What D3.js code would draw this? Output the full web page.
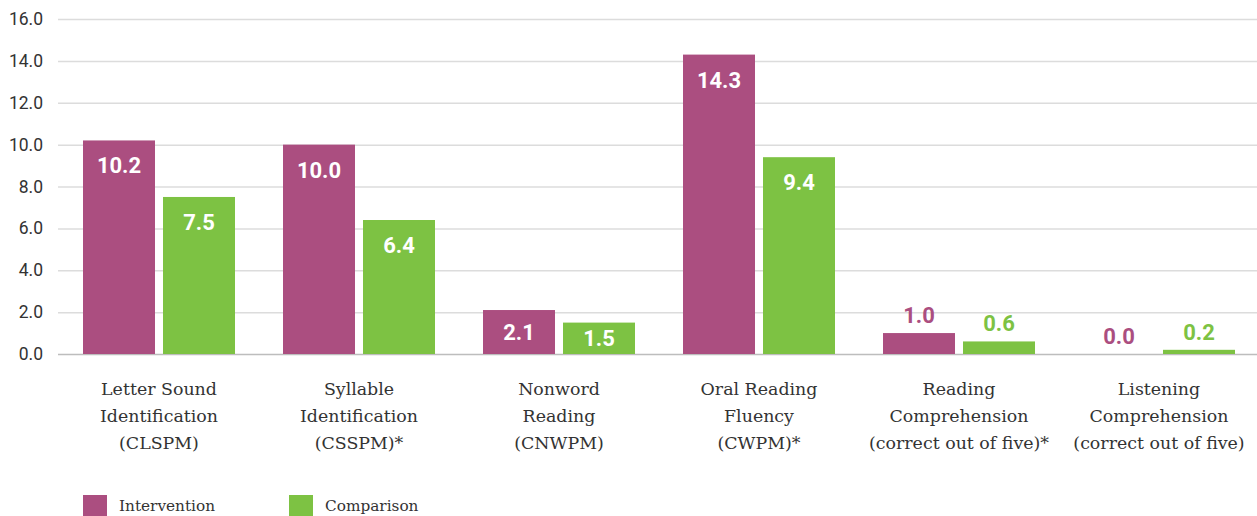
<!DOCTYPE html>
<html><head><meta charset="utf-8">
<script src="https://cdn.jsdelivr.net/npm/d3@7"></script>
<style>body{margin:0;background:#fff}svg{display:block}</style>
</head><body><svg id="c" width="1257" height="516"></svg>
<script>
const categories = [
  ["Letter Sound","Identification","(CLSPM)"],
  ["Syllable","Identification","(CSSPM)*"],
  ["Nonword","Reading","(CNWPM)"],
  ["Oral Reading","Fluency","(CWPM)*"],
  ["Reading","Comprehension","(correct out of five)*"],
  ["Listening","Comprehension","(correct out of five)"]
];
const seriesNames = ["Intervention","Comparison"];
const intervention = [10.2, 10.0, 2.1, 14.3, 1.0, 0.0];
const comparison = [7.5, 6.4, 1.5, 9.4, 0.6, 0.2];
const yTicks = [0,2,4,6,8,10,12,14,16];
const colors = ["#AB4E80","#7DC243"];

(function(){
const svg = d3.select("#c");
const mLeft = 58, mRight = 1257, mTop = 19, mBottom = 354;
const y = d3.scaleLinear().domain([0,16]).range([mBottom, mTop]);
const x0 = d3.scaleBand().domain(d3.range(categories.length)).range([mLeft+1, mLeft+1+1200]);
const x1 = d3.scaleBand().domain([0,1]).range([24, 176]).paddingInner(0.1);

svg.append("g").selectAll("line").data(yTicks).join("line")
  .attr("x1", mLeft).attr("x2", mRight)
  .attr("y1", d=>y(d)+0.5).attr("y2", d=>y(d)+0.5)
  .attr("stroke", d=> d===0 ? "#bdbdbd" : "#dcdcdc").attr("stroke-width", 1.5);

const yAxis = d3.axisLeft(y).tickValues(yTicks).tickFormat(d3.format(".1f")).tickSize(0).tickPadding(0);
const ya = svg.append("g").attr("transform", `translate(43,0)`).call(yAxis);
ya.select(".domain").remove();
ya.selectAll("text").attr("font-family","Roboto").attr("font-size",17.5).attr("fill","#333");

const series = [intervention, comparison];
const data = [];
series.forEach((s, si) => s.forEach((v, ci) => data.push({si, ci, v})));

const g = svg.append("g");
g.selectAll("rect").data(data).join("rect")
  .attr("x", d => x0(d.ci) + x1(d.si))
  .attr("width", x1.bandwidth())
  .attr("y", d => y(d.v))
  .attr("height", d => y(0) - y(d.v))
  .attr("fill", d => colors[d.si]);

const isInside = d => (y(0)-y(d.v)) > 26;
g.selectAll("text.val").data(data).join("text").attr("class","val")
  .attr("x", d => x0(d.ci) + x1(d.si) + x1.bandwidth()/2)
  .attr("y", d => {
    if (isInside(d)) {
      const c = Math.min(y(d.v) + 25, (y(d.v) + y(0)) / 2);
      return c + 8;
    }
    return y(d.v) - 10;
  })
  .attr("text-anchor","middle")
  .attr("font-family","Roboto").attr("font-weight","bold").attr("font-size",22)
  .attr("fill", d => isInside(d) ? "#fff" : colors[d.si])
  .text(d => d3.format(".1f")(d.v));

const cl = svg.append("g");
categories.forEach((lines, ci) => {
  const t = cl.append("text")
    .attr("x", x0(ci) + x0.bandwidth()/2)
    .attr("text-anchor","middle")
    .attr("font-family","DejaVu Serif").attr("font-size",17.4).attr("fill","#333");
  lines.forEach((ln, li) => {
    t.append("tspan").attr("x", x0(ci) + x0.bandwidth()/2).attr("y", 395 + li*27).text(ln);
  });
});

const lg = svg.append("g");
seriesNames.forEach((n, i) => {
  const lx = 83 + i*206;
  lg.append("rect").attr("x", lx).attr("y", 495).attr("width", 24).attr("height", 21).attr("fill", colors[i]);
  lg.append("text").attr("x", lx+36).attr("y", 511).attr("font-family","DejaVu Serif")
    .attr("font-size",15.3).attr("fill","#333").text(n);
});
})();
</script></body></html>
